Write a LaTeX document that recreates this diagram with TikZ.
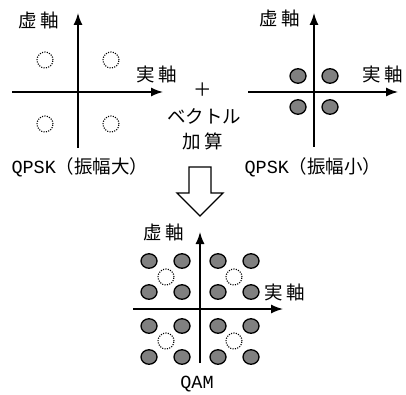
\documentclass[tikz,border=0pt]{standalone}
\usepackage{fontspec}
\newfontfamily\jp{Noto Sans CJK JP}
\newfontfamily\lat{Liberation Mono}
\usetikzlibrary{arrows.meta,shapes.geometric}
\begin{document}
\begin{tikzpicture}[x=1pt,y=-1pt,
  axis/.style={line width=1.4pt,-{Latex[length=12pt,width=9pt]}},
  lbl/.style={inner sep=0pt,font=\jp\fontsize{18.5}{22}\selectfont},
  dot/.style={draw,dash pattern=on 1.1pt off 1.3pt,line width=1.1pt,circle,minimum size=16pt,inner sep=0pt},
  pt/.style={draw,line width=1.3pt,fill=gray,ellipse,minimum width=16pt,minimum height=14.5pt,inner sep=0pt},
  blk/.style={draw,line width=1.3pt,fill=white}]
\useasboundingbox (0,0) rectangle (406,395);
% left QPSK (large amplitude)
\coordinate (l1) at (12,92); \coordinate (l2) at (163,92);
\coordinate (l3) at (78,148); \coordinate (l4) at (78,13);
\draw[axis] (l1) -- (l2);
\draw[axis] (l3) -- (l4);
\node[dot] (la) at (45,60) {};
\node[dot] (lb) at (111,60) {};
\node[dot] (lc) at (45,124) {};
\node[dot] (ld) at (111,124) {};
\node[lbl] (lim) at (39,20) {虚\,軸};
\node[lbl] (lre) at (157,74) {実\,軸};
\node[lbl] (lq) at (80,167) {\lat QPSK\jp（振幅大）};
% right QPSK (small amplitude)
\coordinate (r1) at (248,92); \coordinate (r2) at (398,92);
\coordinate (r3) at (314,147); \coordinate (r4) at (314,13);
\draw[axis] (r1) -- (r2);
\draw[axis] (r3) -- (r4);
\node[pt] (ra) at (298,76) {};
\node[pt] (rb) at (330,76) {};
\node[pt] (rc) at (298,107) {};
\node[pt] (rd) at (330,107) {};
\node[lbl] (rim) at (280,18) {虚\,軸};
\node[lbl] (rre) at (383,74) {実\,軸};
\node[lbl] (rq) at (313,167) {\lat QPSK\jp（振幅小）};
% middle text
\node[lbl] (plus) at (203,90) {＋};
\node[lbl] (vec) at (204,116) {ベクトル};
\node[lbl] (add) at (203,141) {加\,算};
% block arrow
\draw[blk] (189,167) -- (211,167) -- (211,193) -- (223,193) -- (200,216) -- (177,193) -- (189,193) -- cycle;
% QAM
\coordinate (q1) at (133,309); \coordinate (q2) at (283,309);
\coordinate (q3) at (200,363); \coordinate (q4) at (200,232);
\draw[axis] (q1) -- (q2);
\draw[axis] (q3) -- (q4);
\foreach \x in {149,182,218,251} \foreach \y in {261,292,326,357}
  \node[pt] at (\x,\y) {};
\node[dot] (qa) at (166,277) {};
\node[dot] (qb) at (234,277) {};
\node[dot] (qc) at (166,341) {};
\node[dot] (qd) at (234,341) {};
\node[lbl] (qim) at (164,232) {虚\,軸};
\node[lbl] (qre) at (285,292) {実\,軸};
\node[lbl] (qam) at (197,384) {\lat QAM};
\end{tikzpicture}
\end{document}
